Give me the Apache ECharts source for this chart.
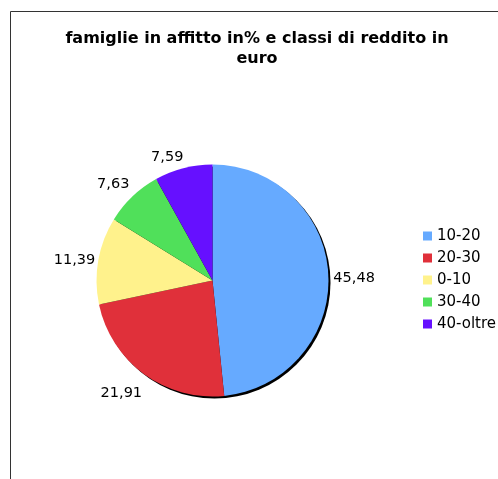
<!DOCTYPE html>
<html>
<head>
<meta charset="utf-8">
<script src="https://cdn.jsdelivr.net/npm/echarts@6/dist/echarts.min.js"></script>
<style>
  html, body { margin: 0; padding: 0; background: #fff; }
  #chart { width: 498px; height: 479px; }
</style>
</head>
<body>
<div id="chart"></div>
<script>
const categories = ['10-20', '20-30', '0-10', '30-40', '40-oltre'];
const values = [45.48, 21.91, 11.39, 7.63, 7.59];
const colors = ['#66aaff', '#e0303a', '#fff28c', '#50e05a', '#6610ff'];
// small shifts so the labels sit where the original put them
const labelNudge = [[0, 4], [3, 19], [2, 0], [2, -12], [5, -11]];

const chart = echarts.init(document.getElementById('chart'));
const font = 'DejaVu Sans, Verdana, sans-serif';

const option = {
    animation: false,
    graphic: [{
        type: 'rect',
        shape: {x: 10.5, y: 11.5, width: 600, height: 600},
        style: {fill: 'none', stroke: '#333', lineWidth: 1},
        silent: true
    }],
    title: {
        text: 'famiglie in affitto in% e classi di reddito in\neuro',
        left: 252,
        textAlign: 'center',
        top: 24,
        textStyle: {fontFamily: font, fontSize: 16, fontWeight: 'bold', color: '#000', lineHeight: 20}
    },
    legend: {
        orient: 'vertical',
        left: 423,
        top: 228,
        padding: 0,
        itemWidth: 9,
        itemHeight: 9,
        itemGap: 6,
        icon: 'rect',
        data: categories,
        itemStyle: {borderWidth: 0},
        textStyle: {fontFamily: font, fontSize: 15, color: '#000', lineHeight: 16}
    },
    series: [
        {
            // dark rim under the pie
            type: 'pie',
            silent: true,
            center: [214.5, 282.5],
            radius: 116,
            label: {show: false},
            labelLine: {show: false},
            itemStyle: {color: '#000'},
            data: [{value: 1, name: 'rim'}],
            legendHoverLink: false,
            z: 1
        },
        {
            type: 'pie',
            center: [212.5, 280.5],
            radius: 116,
            startAngle: 90,
            clockwise: true,
            z: 2,
            data: categories.map(function (c, i) {
                return {name: c, value: values[i], itemStyle: {color: colors[i]}};
            }),
            itemStyle: {borderWidth: 0},
            label: {
                show: true,
                position: 'outside',
                fontFamily: font,
                fontSize: 14.5,
                color: '#000',
                formatter: function (p) {
                    return p.value.toFixed(2).replace('.', ',');
                }
            },
            labelLine: {show: false, length: 0, length2: 0},
            labelLayout: function (params) {
                const n = labelNudge[params.dataIndex] || [0, 0];
                return {dx: n[0], dy: n[1]};
            },
            emphasis: {disabled: true}
        }
    ]
};

chart.setOption(option);
</script>
</body>
</html>
